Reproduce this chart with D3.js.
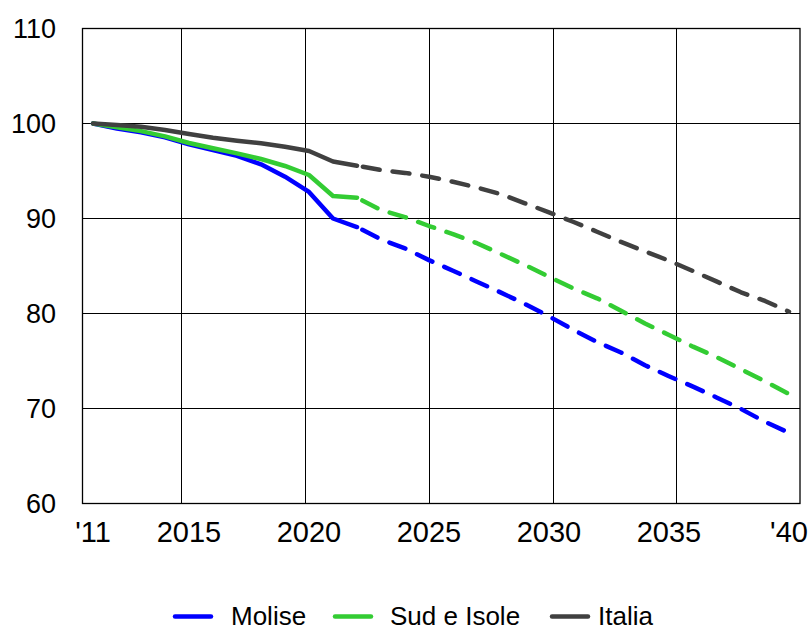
<!DOCTYPE html>
<html>
<head>
<meta charset="utf-8">
<script src="https://cdn.jsdelivr.net/npm/d3@7"></script>
<style>
  html, body { margin: 0; padding: 0; background: #fff; }
  svg { display: block; font-family: Arial, "Liberation Sans", sans-serif; }
</style>
</head>
<body>
<svg id="chart" width="809" height="627"></svg>
<script>
// ---- data ----
const years = d3.range(2011, 2041);
const projectionStartYear = 2022; // solid up to here, dashed afterwards
const molise = [100, 99.46, 99.07, 98.55, 97.81, 97.2, 96.6, 95.7, 94.4, 92.8,
                90.0, 89.1, 87.8, 86.85, 85.62, 84.5, 83.35, 82.2, 81.0, 79.7,
                78.3, 77.0, 75.9, 74.55, 73.4, 72.3, 71.14, 69.95, 68.6, 67.45];
const sudIsole = [100, 99.6, 99.2, 98.65, 97.95, 97.4, 96.86, 96.26, 95.53, 94.58,
                  92.37, 92.19, 90.89, 90.15, 89.21, 88.35, 87.4, 86.25, 85.1, 83.87,
                  82.65, 81.6, 80.29, 78.95, 77.74, 76.51, 75.39, 74.13, 72.86, 71.53];
const italia = [100, 99.84, 99.66, 99.32, 98.9, 98.5, 98.19, 97.92, 97.56, 97.1,
                96.0, 95.56, 95.1, 94.8, 94.4, 93.87, 93.26, 92.55, 91.6, 90.65,
                89.66, 88.61, 87.53, 86.54, 85.56, 84.47, 83.35, 82.23, 81.32, 80.19];
const seriesNames = ["Molise", "Sud e Isole", "Italia"];
const seriesColors = ["#0000ff", "#33cc33", "#404040"];
const yTicks = [60, 70, 80, 90, 100, 110];
const xLabelYears = [2011, 2015, 2020, 2025, 2030, 2035, 2040];
const xLabelText = ["'11", "2015", "2020", "2025", "2030", "2035", "'40"];
const xGridYears = [2015, 2020, 2025, 2030, 2035];

const series = [molise, sudIsole, italia];

// ---- layout ----
const svg = d3.select("#chart");
const plot = { left: 82.5, right: 800, top: 28.5, bottom: 503.5 };

const y = d3.scaleLinear().domain([60, 110]).range([plot.bottom, plot.top]);
const xGrid = d3.scaleLinear().domain([2011, 2040]).range([plot.left, plot.right]);
const xData = d3.scaleLinear().domain([2011, 2040]).range([93, 789]);

// gridlines
const g = svg.append("g");
g.selectAll("line.hgrid").data(yTicks.filter(v => v > 60 && v < 110)).join("line")
  .attr("x1", plot.left).attr("x2", plot.right)
  .attr("y1", d => y(d)).attr("y2", d => y(d))
  .attr("stroke", "#000").attr("stroke-width", 1);
g.selectAll("line.vgrid").data(xGridYears).join("line")
  .attr("x1", d => Math.round(xGrid(d)) + 0.5).attr("x2", d => Math.round(xGrid(d)) + 0.5)
  .attr("y1", plot.top).attr("y2", plot.bottom)
  .attr("stroke", "#000").attr("stroke-width", 1);

// frame
g.append("rect")
  .attr("x", plot.left).attr("y", plot.top)
  .attr("width", plot.right - plot.left).attr("height", plot.bottom - plot.top)
  .attr("fill", "none").attr("stroke", "#000").attr("stroke-width", 1.3);

// y labels
svg.append("g").selectAll("text").data(yTicks).join("text")
  .attr("x", 56).attr("y", d => y(d) + 9.5)
  .attr("text-anchor", "end")
  .attr("font-size", 27).attr("fill", "#000")
  .text(d => d);

// x labels
svg.append("g").selectAll("text").data(xLabelYears).join("text")
  .attr("x", d => xData(d)).attr("y", 541.5)
  .attr("text-anchor", "middle")
  .attr("font-size", 29).attr("fill", "#000")
  .text((d, i) => xLabelText[i]);

// lines
const line = d3.line().x(d => xData(d.year)).y(d => y(d.v));
series.forEach((vals, si) => {
  const pts = years.map((yr, i) => ({ year: yr, v: vals[i] }));
  const solid = pts.filter(p => p.year <= projectionStartYear);
  const dashed = pts.filter(p => p.year >= projectionStartYear);
  svg.append("path").datum(solid).attr("d", line)
    .attr("fill", "none").attr("stroke", seriesColors[si]).attr("stroke-width", 4.5)
    .attr("stroke-linejoin", "round").attr("stroke-linecap", "round");
  svg.append("path").datum(dashed).attr("d", line)
    .attr("fill", "none").attr("stroke", seriesColors[si]).attr("stroke-width", 4.5)
    .attr("stroke-linejoin", "round").attr("stroke-linecap", "round")
    .attr("stroke-dasharray", "17,13").attr("stroke-dashoffset", -6);
});

// legend
const legendItems = [
  { lx: 175, tx: 231 },
  { lx: 335, tx: 390 },
  { lx: 552, tx: 598 }
];
const lg = svg.append("g");
seriesNames.forEach((name, i) => {
  lg.append("line")
    .attr("x1", legendItems[i].lx).attr("x2", legendItems[i].lx + 36)
    .attr("y1", 616.5).attr("y2", 616.5)
    .attr("stroke", seriesColors[i]).attr("stroke-width", 4.5).attr("stroke-linecap", "round");
  lg.append("text")
    .attr("x", legendItems[i].tx).attr("y", 625)
    .attr("font-size", 26).attr("fill", "#000")
    .text(name);
});
</script>
</body>
</html>
